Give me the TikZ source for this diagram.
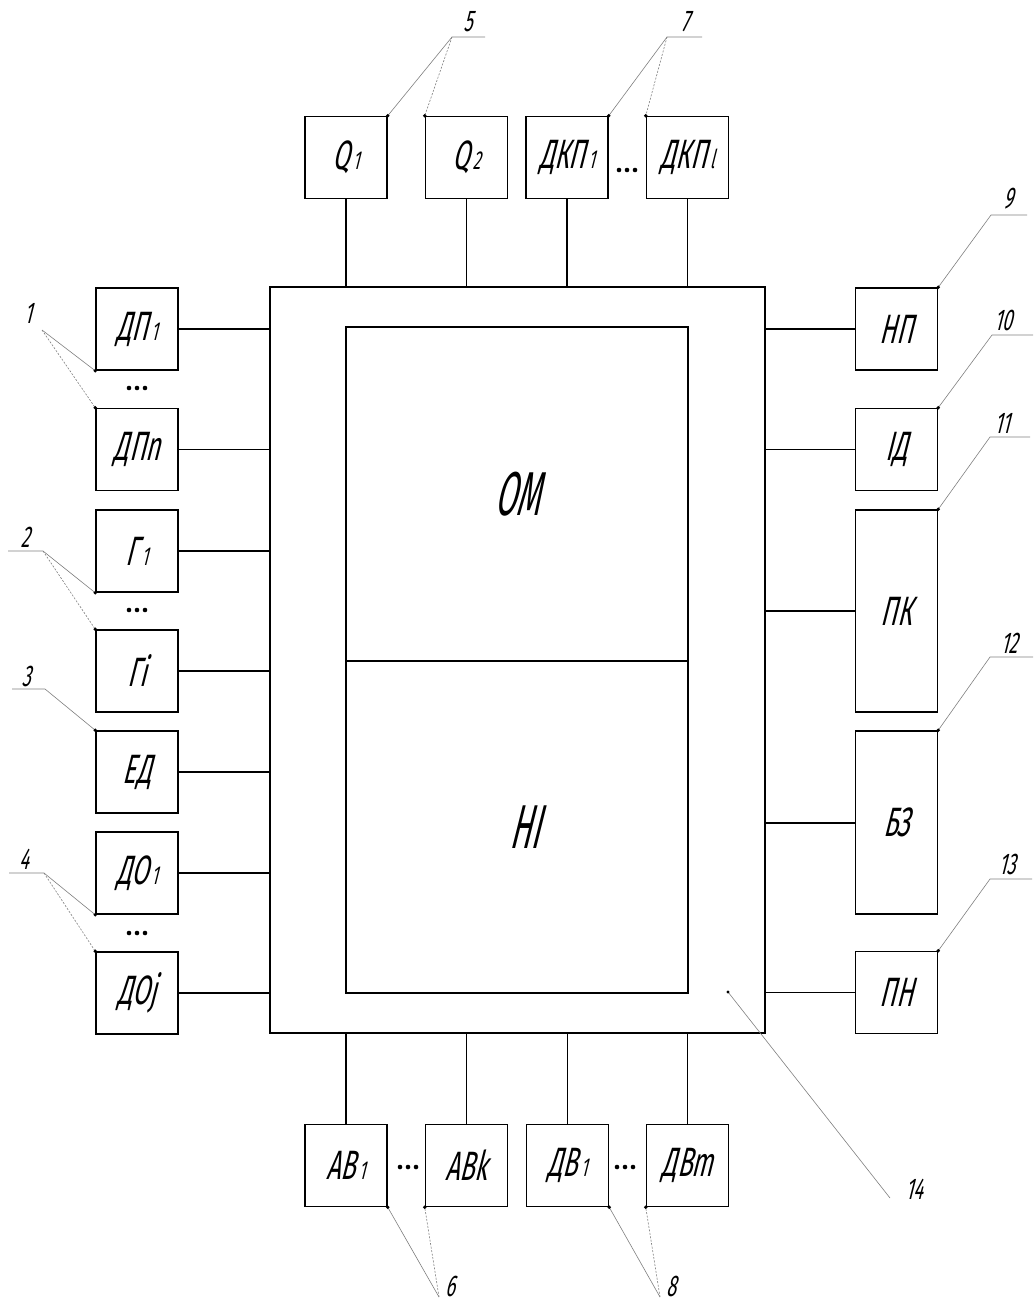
\documentclass[tikz,border=0pt]{standalone}
\usepackage{fontspec}
\newfontfamily\gost[FakeStretch=0.6,FakeSlant=0.25]{Fira Sans}
\newfontfamily\gostbig[FakeStretch=0.5,FakeSlant=0.25]{Fira Sans}
\newcommand\ix[1]{\kern3pt{\fontsize{26}{26}\selectfont #1}}
\tikzset{
  blk/.style={draw, line width=1.5pt, inner sep=0pt, minimum width=82pt, minimum height=82pt,
    font=\gost\fontsize{41}{41}\selectfont},
  bigbox/.style={draw, line width=1.5pt, inner sep=0pt, font=\gostbig\fontsize{62}{62}\selectfont},
  conn/.style={line width=1.5pt},
  lead/.style={draw=gray, line width=0.6pt},
  leaddash/.style={draw=gray, line width=0.6pt, dash pattern=on 2pt off 1.5pt},
  num/.style={font=\gost\fontsize{30}{30}\selectfont, inner sep=0pt},
}
\begin{document}
\begin{tikzpicture}[x=1pt,y=-1pt]
\useasboundingbox[fill=white] (0,0) rectangle (1033,1305);

% main frame and inner blocks
\node[draw, line width=1.5pt, inner sep=0pt, minimum width=495pt, minimum height=746pt] (main) at (517.5,660) {};
\node[bigbox, minimum width=342pt, minimum height=334pt] (om) at (517,494) {ОМ};
\node[bigbox, minimum width=342pt, minimum height=332pt] (ni) at (517,827) {\hspace*{16pt}НІ};

% left column
\node[blk] (dp1) at (137,329) {ДП\ix{1}};
\node[blk] (dpn) at (137,449.5) {ДПn};
\node[blk] (g1)  at (137,551) {Г\ix{1}};
\node[blk] (gi)  at (137,671) {Гi};
\node[blk] (ed)  at (137,772) {ЕД};
\node[blk] (do1) at (137,873) {ДО\ix{1}};
\node[blk] (doj) at (137,993) {ДОj};
\foreach \n in {dp1,dpn,g1,gi,ed,do1,doj}
  \draw[conn] (\n.east) -- (\n.east -| main.west);

% top row
\node[blk] (q1)   at (346,157.5) {Q\ix{1}};
\node[blk] (q2)   at (466.5,157.5) {Q\ix{2}};
\node[blk] (dkp1) at (567,157.5) {ДКП\ix{1}};
\node[blk] (dkpl) at (687.5,157.5) {ДКП\ix{l}};
\foreach \n in {q1,q2,dkp1,dkpl}
  \draw[conn] (\n.south) -- (\n.south |- main.north);

% bottom row
\node[blk] (ab1) at (346,1165.5) {АВ\ix{1}};
\node[blk] (abk) at (466.5,1165.5) {АВk};
\node[blk] (dv1) at (567.5,1165.5) {ДВ\ix{1}};
\node[blk] (dvm) at (687.5,1165.5) {ДВm};
\foreach \n in {ab1,abk,dv1,dvm}
  \draw[conn] (\n.north) -- (\n.north |- main.south);

% right column
\node[blk] (np) at (896.5,329) {НП};
\node[blk] (id) at (896.5,449.5) {ІД};
\node[blk, minimum height=202pt] (pk) at (896.5,611) {ПК};
\node[blk, minimum height=183pt] (bz) at (896.5,822.5) {БЗ};
\node[blk] (pn) at (896.5,992.5) {ПН};
\foreach \n in {np,id,pn}
  \draw[conn] (\n.west) -- (\n.west -| main.east);
\draw[conn] (pk.west) -- (pk.west -| main.east);
\draw[conn] ([yshift=-0.5pt]bz.west) -- ([yshift=-0.5pt]bz.west -| main.east);

% ellipsis dots
\foreach \x/\y in {137/388, 137/610, 137/933, 627/170, 408/1167, 625/1167}
  \foreach \d in {-8,0,8} \fill (\x+\d,\y) circle (2.3pt);

% leader labels
\node[num] (n1) at (28,313) {1};
\coordinate (j1) at (42,330);
\draw[lead] (j1) -- (dp1.south west);
\draw[leaddash] (j1) -- (dpn.north west);

\node[num] (n2) at (25,537) {2};
\coordinate (u2) at (8,551); \coordinate (j2) at (43,551);
\draw[lead] (u2) -- (j2) -- (g1.south west);
\draw[leaddash] (j2) -- (gi.north west);

\node[num] (n3) at (26,676) {3};
\coordinate (u3) at (12,689); \coordinate (j3) at (45,689);
\draw[lead] (u3) -- (j3) -- (ed.north west);

\node[num] (n4) at (24,859) {4};
\coordinate (u4) at (9,873); \coordinate (j4) at (44,873);
\draw[lead] (u4) -- (j4) -- (do1.south west);
\draw[leaddash] (j4) -- (doj.north west);

\node[num] (n5) at (468,22) {5};
\coordinate (j5) at (452,37); \coordinate (u5) at (485,37);
\draw[lead] (u5) -- (j5) -- (q1.north east);
\draw[leaddash] (j5) -- (q2.north west);

\node[num] (n7) at (685,22) {7};
\coordinate (j7) at (667,37); \coordinate (u7) at (702,37);
\draw[lead] (u7) -- (j7) -- (dkp1.north east);
\draw[leaddash] (j7) -- (dkpl.north west);

\node[num] (n6) at (450,1286) {6};
\coordinate (j6) at (439,1297);
\draw[lead] (j6) -- (ab1.south east);
\draw[leaddash] (j6) -- (abk.south west);

\node[num] (n8) at (671,1286) {8};
\coordinate (j8) at (660,1297);
\draw[lead] (j8) -- (dv1.south east);
\draw[leaddash] (j8) -- (dvm.south west);

\node[num] (n9) at (1008,199) {9};
\coordinate (j9) at (991,215); \coordinate (u9) at (1027,215);
\draw[lead] (u9) -- (j9) -- (np.north east);

\node[num] (n10) at (1003,320) {10};
\coordinate (j10) at (992,335); \coordinate (u10) at (1033,335);
\draw[lead] (u10) -- (j10) -- (id.north east);

\node[num] (n11) at (1002,423) {11};
\coordinate (j11) at (990,437); \coordinate (u11) at (1030,437);
\draw[lead] (u11) -- (j11) -- (pk.north east);

\node[num] (n12) at (1009,643) {12};
\coordinate (j12) at (990,657); \coordinate (u12) at (1033,657);
\draw[lead] (u12) -- (j12) -- (bz.north east);

\node[num] (n13) at (1007,864) {13};
\coordinate (j13) at (990,879); \coordinate (u13) at (1032,879);
\draw[lead] (u13) -- (j13) -- (pn.north east);

\node[num] (n14) at (914,1189) {14};
\coordinate (p14) at (728,992); \coordinate (j14) at (890,1198);
\draw[lead] (p14) -- (j14);
\fill (p14) circle (1.6pt);

% anchor dots at leader ends
\foreach \p in {dp1.south west, dpn.north west, g1.south west, gi.north west, ed.north west,
  do1.south west, doj.north west, q1.north east, q2.north west, dkp1.north east, dkpl.north west,
  ab1.south east, abk.south west, dv1.south east, dvm.south west,
  np.north east, id.north east, pk.north east, bz.north east, pn.north east}
  \fill (\p) circle (1.8pt);
\end{tikzpicture}
\end{document}
